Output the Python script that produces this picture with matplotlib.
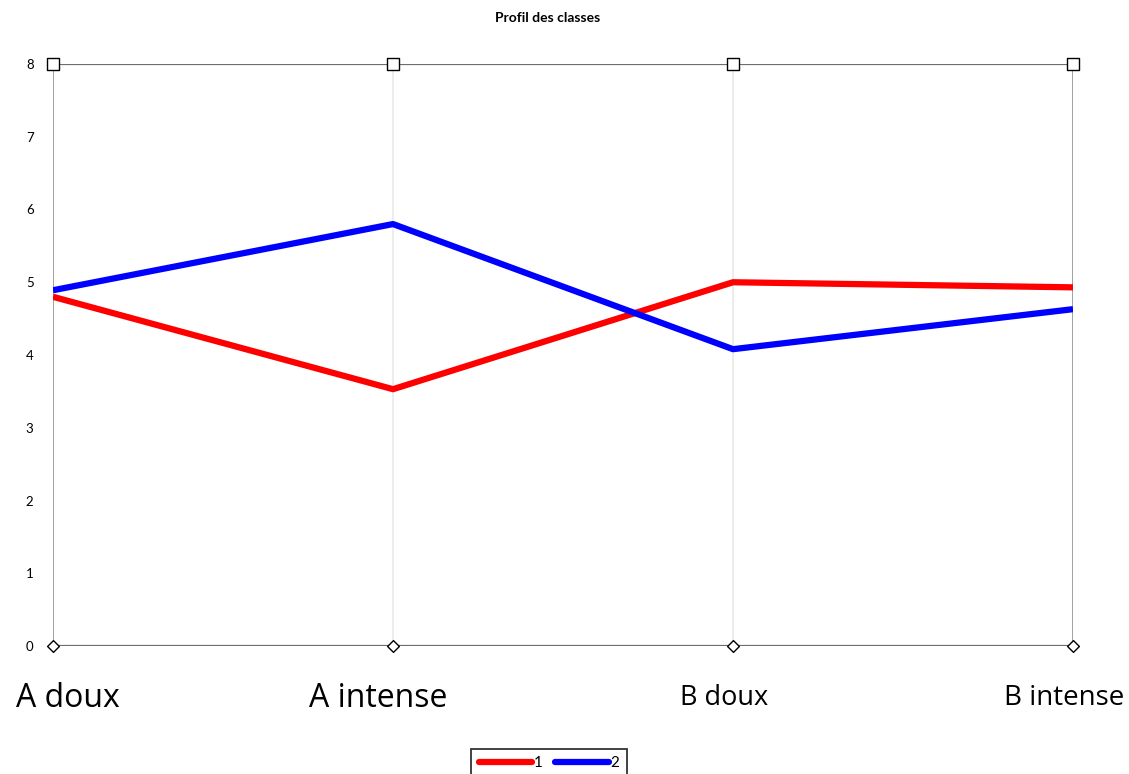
import matplotlib.pyplot as plt

plt.rcParams['font.family'] = ['Lato', 'DejaVu Sans']

categories = ["A doux", "A intense", "B doux", "B intense"]
class_1 = [4.80, 3.53, 5.00, 4.93]
class_2 = [4.89, 5.80, 4.08, 4.63]
series_names = ["1", "2"]
y_ticks = [0, 1, 2, 3, 4, 5, 6, 7, 8]

# per-label font size and horizontal offset (in axis units)
label_sizes = [23, 23, 19.5, 20]
label_shift = [0.045, -0.045, -0.025, -0.025]


def main():
    fig = plt.figure(figsize=(11.29, 7.74), dpi=100)
    ax = fig.add_axes([53 / 1129, 128 / 774, 1020 / 1129, 582 / 774])
    n = len(categories)
    xs = list(range(n))

    # vertical axes, outer ones darker
    for i in xs:
        col = "#9a9a9a" if i in (0, n - 1) else "#ececec"
        ax.axvline(i, color=col, lw=1.3, zorder=1)
    ax.axhline(0, color="#6e6e6e", lw=1.6, zorder=1)
    ax.axhline(8, color="#6e6e6e", lw=1.6, zorder=1)

    ax.plot(xs, class_1, color="#ff0000", lw=4.5, label=series_names[0],
            solid_capstyle="butt", zorder=3)
    ax.plot(xs, class_2, color="#0000ff", lw=4.5, label=series_names[1],
            solid_capstyle="butt", zorder=3)

    ax.scatter(xs, [8] * n, marker="s", s=70, facecolor="white",
               edgecolor="black", lw=1.0, zorder=4, clip_on=False)
    ax.scatter(xs, [0] * n, marker="D", s=36, facecolor="white",
               edgecolor="black", lw=1.0, zorder=4, clip_on=False)

    ax.set_xlim(0, n - 1)
    ax.set_ylim(0, 8)
    for s in ax.spines.values():
        s.set_visible(False)
    ax.set_xticks([])
    ax.set_yticks(y_ticks)
    ax.tick_params(axis="y", length=0, pad=14, labelsize=9.5)

    for i, lab in enumerate(categories):
        ax.text(i + label_shift[i], -0.72, lab, ha="center", va="center",
                fontsize=label_sizes[i], family=["Open Sans", "DejaVu Sans"],
                clip_on=False)

    fig.suptitle("Profil des classes", x=548 / 1129, y=1 - 18 / 774,
                 va="center", fontsize=10, fontweight="bold")

    leg = fig.legend(loc="upper center", bbox_to_anchor=(549 / 1129, 1 - 741 / 774),
                     ncol=2, frameon=True, fancybox=False, fontsize=11,
                     handlelength=3.5, handletextpad=0.1, columnspacing=0.8,
                     borderpad=0.5)
    leg.get_frame().set_edgecolor("black")
    leg.get_frame().set_linewidth(1.3)
    for line in leg.get_lines():
        line.set_solid_capstyle("round")

    fig.savefig("out.png", dpi=100)


if __name__ == "__main__":
    main()
